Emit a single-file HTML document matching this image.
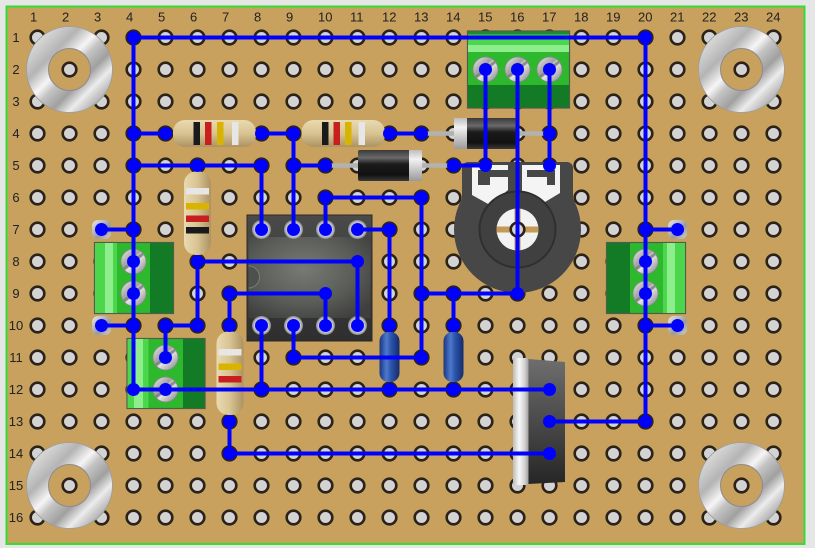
<!DOCTYPE html>
<html>
<head>
<meta charset="utf-8">
<style>
html,body{margin:0;padding:0;background:#e6e6e6;}
svg{display:block;}
text{font-family:"Liberation Sans",Arial,sans-serif;font-size:13px;fill:#222;}
</style>
</head>
<body>
<svg width="815" height="548" viewBox="0 0 815 548" xmlns="http://www.w3.org/2000/svg">
<defs>
  <pattern id="holes" x="21.5" y="21.5" width="32" height="32" patternUnits="userSpaceOnUse">
    <circle cx="16" cy="16" r="6.8" fill="#d3d3d5" stroke="#2b2218" stroke-width="2.6"/>
  </pattern>
  <linearGradient id="silverW" x1="0" y1="0" x2="1" y2="1">
    <stop offset="0" stop-color="#dcdcdc"/>
    <stop offset="0.25" stop-color="#b4b4b4"/>
    <stop offset="0.42" stop-color="#f6f6f6"/>
    <stop offset="0.52" stop-color="#c4c4c4"/>
    <stop offset="0.68" stop-color="#a0a0a0"/>
    <stop offset="0.82" stop-color="#ececec"/>
    <stop offset="1" stop-color="#a8a8a8"/>
  </linearGradient>
  <linearGradient id="screw" x1="0" y1="0" x2="1" y2="1">
    <stop offset="0" stop-color="#efefef"/>
    <stop offset="0.4" stop-color="#a0a0a0"/>
    <stop offset="0.55" stop-color="#e4e4e4"/>
    <stop offset="1" stop-color="#808080"/>
  </linearGradient>
  <radialGradient id="pinG" cx="0.5" cy="0.5" r="0.5">
    <stop offset="0" stop-color="#ffffff"/>
    <stop offset="0.6" stop-color="#e6e6e6"/>
    <stop offset="1" stop-color="#8a8a8a"/>
  </radialGradient>
  <linearGradient id="resH" x1="0" y1="0" x2="0" y2="1">
    <stop offset="0" stop-color="#e9dab2"/>
    <stop offset="0.5" stop-color="#d8c392"/>
    <stop offset="1" stop-color="#ad9262"/>
  </linearGradient>
  <linearGradient id="resV" x1="0" y1="0" x2="1" y2="0">
    <stop offset="0" stop-color="#e9dab2"/>
    <stop offset="0.5" stop-color="#d8c392"/>
    <stop offset="1" stop-color="#ad9262"/>
  </linearGradient>
  <linearGradient id="diodeG" x1="0" y1="0" x2="0" y2="1">
    <stop offset="0" stop-color="#3a3a3a"/>
    <stop offset="0.25" stop-color="#6a6a6a"/>
    <stop offset="0.45" stop-color="#1c1c1c"/>
    <stop offset="0.8" stop-color="#111"/>
    <stop offset="1" stop-color="#3a3a3a"/>
  </linearGradient>
  <linearGradient id="bandG" x1="0" y1="0" x2="0" y2="1">
    <stop offset="0" stop-color="#bdbdbd"/>
    <stop offset="0.3" stop-color="#f2f2f2"/>
    <stop offset="1" stop-color="#9a9a9a"/>
  </linearGradient>
  <linearGradient id="capG" x1="0" y1="0" x2="1" y2="0">
    <stop offset="0" stop-color="#1a3680"/>
    <stop offset="0.35" stop-color="#4d79cc"/>
    <stop offset="0.6" stop-color="#2a52a8"/>
    <stop offset="1" stop-color="#142c6c"/>
  </linearGradient>
  <linearGradient id="tabG" x1="0" y1="0" x2="1" y2="0">
    <stop offset="0" stop-color="#bcbcbc"/>
    <stop offset="0.4" stop-color="#f8f8f8"/>
    <stop offset="0.75" stop-color="#d2d2d2"/>
    <stop offset="1" stop-color="#a0a0a0"/>
  </linearGradient>
  <linearGradient id="regG" x1="0" y1="0" x2="0" y2="1">
    <stop offset="0" stop-color="#6e6e6e"/>
    <stop offset="0.5" stop-color="#4a4a4a"/>
    <stop offset="1" stop-color="#262626"/>
  </linearGradient>
  <radialGradient id="icG" cx="0.45" cy="0.4" r="0.7">
    <stop offset="0" stop-color="#777a74"/>
    <stop offset="0.6" stop-color="#5a5c58"/>
    <stop offset="1" stop-color="#3e3f3e"/>
  </radialGradient>
  <linearGradient id="icTop" x1="0" y1="0" x2="0" y2="1">
    <stop offset="0" stop-color="#4a4a4a"/>
    <stop offset="1" stop-color="#2e2e2e"/>
  </linearGradient>
  <linearGradient id="pinSq" x1="0" y1="0" x2="1" y2="1">
    <stop offset="0" stop-color="#e8e8e8"/>
    <stop offset="0.6" stop-color="#9a9a9a"/>
    <stop offset="1" stop-color="#cfcfcf"/>
  </linearGradient>
  <clipPath id="potC"><circle cx="517.5" cy="229.5" r="21"/></clipPath>
</defs>

<!-- board -->
<rect x="6.5" y="6.5" width="798" height="537.5" fill="#c9a15e" stroke="#33dd33" stroke-width="2"/>
<rect x="21.5" y="21.5" width="768" height="512" fill="url(#holes)"/>

<!-- labels -->
<g>
<text x="30" y="21.5">1</text><text x="62" y="21.5">2</text><text x="94" y="21.5">3</text><text x="126" y="21.5">4</text>
<text x="158" y="21.5">5</text><text x="190" y="21.5">6</text><text x="222" y="21.5">7</text><text x="254" y="21.5">8</text>
<text x="286" y="21.5">9</text><text x="318" y="21.5">10</text><text x="350" y="21.5">11</text><text x="382" y="21.5">12</text>
<text x="414" y="21.5">13</text><text x="446" y="21.5">14</text><text x="478" y="21.5">15</text><text x="510" y="21.5">16</text>
<text x="542" y="21.5">17</text><text x="574" y="21.5">18</text><text x="606" y="21.5">19</text><text x="638" y="21.5">20</text>
<text x="670" y="21.5">21</text><text x="702" y="21.5">22</text><text x="734" y="21.5">23</text><text x="766" y="21.5">24</text>
</g>
<g text-anchor="middle">
<text x="16" y="42">1</text><text x="16" y="74">2</text><text x="16" y="106">3</text><text x="16" y="138">4</text>
<text x="16" y="170">5</text><text x="16" y="202">6</text><text x="16" y="234">7</text><text x="16" y="266">8</text>
<text x="16" y="298">9</text><text x="16" y="330">10</text><text x="16" y="362">11</text><text x="16" y="394">12</text>
<text x="16" y="426">13</text><text x="16" y="458">14</text><text x="16" y="490">15</text><text x="16" y="522">16</text>
</g>

<!-- washers -->
<g fill="none">
  <g>
    <circle cx="69.5" cy="69.5" r="32" stroke="url(#silverW)" stroke-width="22"/>
    <circle cx="69.5" cy="69.5" r="43" stroke="#9c9c9c" stroke-width="0.8"/>
    <circle cx="69.5" cy="69.5" r="21" stroke="#8a8a8a" stroke-width="1"/>
  </g>
  <g>
    <circle cx="741.5" cy="69.5" r="32" stroke="url(#silverW)" stroke-width="22"/>
    <circle cx="741.5" cy="69.5" r="43" stroke="#9c9c9c" stroke-width="0.8"/>
    <circle cx="741.5" cy="69.5" r="21" stroke="#8a8a8a" stroke-width="1"/>
  </g>
  <g>
    <circle cx="69.5" cy="485.5" r="32" stroke="url(#silverW)" stroke-width="22"/>
    <circle cx="69.5" cy="485.5" r="43" stroke="#9c9c9c" stroke-width="0.8"/>
    <circle cx="69.5" cy="485.5" r="21" stroke="#8a8a8a" stroke-width="1"/>
  </g>
  <g>
    <circle cx="741.5" cy="485.5" r="32" stroke="url(#silverW)" stroke-width="22"/>
    <circle cx="741.5" cy="485.5" r="43" stroke="#9c9c9c" stroke-width="0.8"/>
    <circle cx="741.5" cy="485.5" r="21" stroke="#8a8a8a" stroke-width="1"/>
  </g>
</g>

<!-- terminal pins (silver) -->
<rect x="92" y="220" width="19" height="19" rx="6" fill="url(#pinSq)"/>
<rect x="92" y="316" width="19" height="19" rx="6" fill="url(#pinSq)"/>
<rect x="668" y="220" width="19" height="19" rx="6" fill="url(#pinSq)"/>
<rect x="668" y="316" width="19" height="19" rx="6" fill="url(#pinSq)"/>

<!-- TB1 -->
<g>
  <rect x="94.5" y="242.5" width="79" height="71" fill="#2db82d" stroke="#4e5e4a" stroke-width="1.2"/>
  <rect x="95" y="243" width="22" height="70" fill="#4bd64b"/>
  <rect x="105" y="243" width="8" height="70" fill="#8eee8e"/>
  <rect x="150" y="243" width="23" height="70" fill="#137a25"/>
</g>
<!-- TB2 -->
<g>
  <rect x="127" y="338.5" width="78" height="70" fill="#2db82d" stroke="#4e5e4a" stroke-width="1.2"/>
  <rect x="127.5" y="339" width="21" height="69" fill="#4bd64b"/>
  <rect x="134" y="339" width="9" height="69" fill="#8eee8e"/>
  <rect x="183" y="339" width="21.5" height="69" fill="#137a25"/>
</g>
<!-- TB3 -->
<g>
  <rect x="606.5" y="242.5" width="79" height="71" fill="#2db82d" stroke="#4e5e4a" stroke-width="1.2"/>
  <rect x="607" y="243" width="23" height="70" fill="#137a25"/>
  <rect x="663" y="243" width="22" height="70" fill="#4bd64b"/>
  <rect x="667" y="243" width="8" height="70" fill="#8eee8e"/>
</g>
<!-- TB4 -->
<g>
  <rect x="467.5" y="31" width="102" height="77" fill="#2db82d" stroke="#4e5e4a" stroke-width="1.2"/>
  <rect x="468" y="31.5" width="101" height="3" fill="#1e8c2e"/>
  <rect x="468" y="34.5" width="101" height="17" fill="#4bd64b"/>
  <rect x="468" y="45" width="101" height="7" fill="#8eee8e"/>
  <rect x="468" y="85" width="101" height="22.5" fill="#137a25"/>
</g>

<!-- screws -->
<g stroke="#8a8a8a" stroke-width="0.8">
  <circle cx="133.5" cy="261.5" r="12.5" fill="url(#screw)"/>
  <circle cx="133.5" cy="293.5" r="12.5" fill="url(#screw)"/>
  <circle cx="165.5" cy="357.5" r="12.5" fill="url(#screw)"/>
  <circle cx="165.5" cy="389.5" r="12.5" fill="url(#screw)"/>
  <circle cx="645.5" cy="261.5" r="12.5" fill="url(#screw)"/>
  <circle cx="645.5" cy="293.5" r="12.5" fill="url(#screw)"/>
  <circle cx="485.5" cy="69.5" r="12.5" fill="url(#screw)"/>
  <circle cx="517.5" cy="69.5" r="12.5" fill="url(#screw)"/>
  <circle cx="549.5" cy="69.5" r="12.5" fill="url(#screw)"/>
</g>
<g stroke="#6e6e6e" stroke-width="3" opacity="0.7">
  <line x1="124" y1="269" x2="143" y2="254"/><line x1="124" y1="301" x2="143" y2="286"/>
  <line x1="156" y1="365" x2="175" y2="350"/><line x1="156" y1="397" x2="175" y2="382"/>
  <line x1="636" y1="269" x2="655" y2="254"/><line x1="636" y1="301" x2="655" y2="286"/>
  <line x1="476" y1="77" x2="495" y2="62"/><line x1="508" y1="77" x2="527" y2="62"/><line x1="540" y1="77" x2="559" y2="62"/>
</g>

<!-- IC -->
<g>
  <rect x="247" y="215" width="125" height="126" fill="url(#icTop)" stroke="#2a2a2a" stroke-width="1"/>
  <rect x="248.5" y="237" width="122" height="81" fill="url(#icG)"/>
  <path d="M248.5,266 A11 11 0 0 1 248.5,288" fill="#4e504d" stroke="#7a7c78" stroke-width="1"/>
  <g>
    <circle cx="261.5" cy="229.5" r="9.5" fill="url(#pinG)"/>
    <circle cx="293.5" cy="229.5" r="9.5" fill="url(#pinG)"/>
    <circle cx="325.5" cy="229.5" r="9.5" fill="url(#pinG)"/>
    <circle cx="357.5" cy="229.5" r="9.5" fill="url(#pinG)"/>
    <circle cx="261.5" cy="325.5" r="9.5" fill="url(#pinG)"/>
    <circle cx="293.5" cy="325.5" r="9.5" fill="url(#pinG)"/>
    <circle cx="325.5" cy="325.5" r="9.5" fill="url(#pinG)"/>
    <circle cx="357.5" cy="325.5" r="9.5" fill="url(#pinG)"/>
  </g>
</g>

<!-- Pot -->
<g>
  <rect x="462" y="162" width="111" height="66" rx="6" fill="#474747"/>
  <circle cx="517.5" cy="229.5" r="63.5" fill="#474747"/>
  <polygon points="472,165 508,165 508,190 490,205 472,195" fill="#f4f4f4"/>
  <rect x="478" y="170" width="12" height="15" fill="#474747"/>
  <rect x="490" y="170" width="18" height="7" fill="#474747"/>
  <polygon points="522,165 560,165 560,193 540,205 522,192" fill="#f4f4f4"/>
  <rect x="547" y="170" width="8" height="15" fill="#474747"/>
  <rect x="527" y="170" width="20" height="7" fill="#474747"/>
  <circle cx="517.5" cy="229.5" r="38" fill="#404040" stroke="#2f2f2f" stroke-width="2"/>
  <circle cx="517.5" cy="229.5" r="21" fill="#f2f2f2"/>
  <g clip-path="url(#potC)" fill="#c49a55">
    <rect x="494" y="226.5" width="47" height="6"/>
    <rect x="514.5" y="206" width="6" height="47"/>
  </g>
  <circle cx="517.5" cy="229.5" r="6.8" fill="#d3d3d5" stroke="#2b2218" stroke-width="2.6"/>
</g>

<!-- Regulator -->
<g>
  <rect x="513" y="358" width="15.5" height="127" fill="url(#tabG)"/>
  <polygon points="528.5,359 565,362 565,482 528.5,484" fill="url(#regG)"/>
</g>

<!-- Capacitors -->
<rect x="379.5" y="332" width="20" height="50" rx="9" fill="url(#capG)"/>
<rect x="443.5" y="332" width="20" height="50" rx="9" fill="url(#capG)"/>

<!-- Diode leads -->
<line x1="421.5" y1="133.5" x2="549.5" y2="133.5" stroke="#b2b2b2" stroke-width="4.5"/>
<line x1="325.5" y1="165.5" x2="453.5" y2="165.5" stroke="#b2b2b2" stroke-width="4.5"/>
<!-- Diodes -->
<rect x="454" y="118" width="64" height="31" rx="2" fill="url(#diodeG)"/>
<rect x="454" y="118" width="13" height="31" fill="url(#bandG)"/>
<rect x="358" y="150" width="64" height="31" rx="2" fill="url(#diodeG)"/>
<rect x="409" y="150" width="13" height="31" fill="url(#bandG)"/>

<!-- Resistors -->
<g>
  <rect x="173" y="120" width="83" height="27" rx="12" fill="url(#resH)"/>
  <rect x="193.5" y="122" width="6.5" height="23" fill="#1a1a1a"/>
  <rect x="205" y="122" width="6.5" height="23" fill="#c81e1e"/>
  <rect x="217" y="122" width="6.5" height="23" fill="#d8b400"/>
  <rect x="232" y="122" width="6.5" height="23" fill="#e6e6e6"/>
</g>
<g>
  <rect x="301.5" y="120" width="83.5" height="27" rx="12" fill="url(#resH)"/>
  <rect x="322" y="122" width="6.5" height="23" fill="#1a1a1a"/>
  <rect x="333.5" y="122" width="6.5" height="23" fill="#c81e1e"/>
  <rect x="345" y="122" width="6.5" height="23" fill="#d8b400"/>
  <rect x="358.5" y="122" width="6.5" height="23" fill="#e6e6e6"/>
</g>
<g>
  <rect x="184" y="171.5" width="27" height="83.5" rx="12" fill="url(#resV)"/>
  <rect x="186" y="188" width="23" height="6.5" fill="#e6e6e6"/>
  <rect x="186" y="203" width="23" height="6.5" fill="#d8b400"/>
  <rect x="186" y="215.5" width="23" height="6.5" fill="#c81e1e"/>
  <rect x="186" y="227" width="23" height="6.5" fill="#1a1a1a"/>
</g>
<g>
  <rect x="216.5" y="331.5" width="27" height="83.5" rx="12" fill="url(#resV)"/>
  <rect x="218.5" y="349" width="23" height="6.5" fill="#e6e6e6"/>
  <rect x="218.5" y="363.5" width="23" height="6.5" fill="#d8b400"/>
  <rect x="218.5" y="376" width="23" height="6.5" fill="#c81e1e"/>
</g>

<!-- Wires -->
<path fill="none" stroke="#0000ff" stroke-width="4" stroke-linecap="round" d="
M133.5 37.5 H645.5
M133.5 37.5 V389.5
M645.5 37.5 V421.5
M133.5 133.5 H165.5
M261.5 133.5 H293.5
M293.5 133.5 V229.5
M133.5 165.5 H261.5
M261.5 165.5 V229.5
M293.5 165.5 H325.5
M389.5 133.5 H421.5
M453.5 165.5 H485.5
M485.5 69.5 V165.5
M517.5 69.5 V293.5
M549.5 69.5 V165.5
M101.5 229.5 H133.5
M325.5 197.5 H421.5
M325.5 197.5 V229.5
M357.5 229.5 H389.5
M389.5 229.5 V325.5
M421.5 197.5 V357.5
M421.5 293.5 H517.5
M453.5 293.5 V325.5
M197.5 261.5 H357.5
M357.5 261.5 V325.5
M197.5 261.5 V325.5
M165.5 325.5 H197.5
M165.5 325.5 V357.5
M229.5 293.5 H325.5
M229.5 293.5 V325.5
M325.5 293.5 V325.5
M101.5 325.5 H133.5
M133.5 389.5 H549.5
M261.5 325.5 V389.5
M293.5 325.5 V357.5
M293.5 357.5 H421.5
M229.5 421.5 V453.5
M229.5 453.5 H549.5
M549.5 421.5 H645.5
M645.5 229.5 H677.5
M645.5 325.5 H677.5
"/>

<!-- Dots -->
<g fill="#0000ff">
<circle cx="133.5" cy="37.5" r="6.5"/><circle cx="645.5" cy="37.5" r="6.5"/>
<circle cx="485.5" cy="69.5" r="6.5"/><circle cx="517.5" cy="69.5" r="6.5"/><circle cx="549.5" cy="69.5" r="6.5"/>
<circle cx="133.5" cy="133.5" r="6.5"/><circle cx="165.5" cy="133.5" r="6.5"/><circle cx="261.5" cy="133.5" r="6.5"/>
<circle cx="293.5" cy="133.5" r="6.5"/><circle cx="389.5" cy="133.5" r="6.5"/><circle cx="421.5" cy="133.5" r="6.5"/>
<circle cx="549.5" cy="133.5" r="6.5"/>
<circle cx="133.5" cy="165.5" r="6.5"/><circle cx="197.5" cy="165.5" r="6.5"/><circle cx="261.5" cy="165.5" r="6.5"/>
<circle cx="293.5" cy="165.5" r="6.5"/><circle cx="325.5" cy="165.5" r="6.5"/><circle cx="453.5" cy="165.5" r="6.5"/>
<circle cx="485.5" cy="165.5" r="6.5"/><circle cx="549.5" cy="165.5" r="6.5"/>
<circle cx="325.5" cy="197.5" r="6.5"/><circle cx="421.5" cy="197.5" r="6.5"/>
<circle cx="101.5" cy="229.5" r="6.5"/><circle cx="133.5" cy="229.5" r="6.5"/><circle cx="261.5" cy="229.5" r="6.5"/>
<circle cx="293.5" cy="229.5" r="6.5"/><circle cx="325.5" cy="229.5" r="6.5"/><circle cx="357.5" cy="229.5" r="6.5"/>
<circle cx="389.5" cy="229.5" r="6.5"/><circle cx="645.5" cy="229.5" r="6.5"/><circle cx="677.5" cy="229.5" r="6.5"/>
<circle cx="133.5" cy="261.5" r="6.5"/><circle cx="197.5" cy="261.5" r="6.5"/><circle cx="357.5" cy="261.5" r="6.5"/>
<circle cx="645.5" cy="261.5" r="6.5"/>
<circle cx="133.5" cy="293.5" r="6.5"/><circle cx="229.5" cy="293.5" r="6.5"/><circle cx="325.5" cy="293.5" r="6.5"/>
<circle cx="421.5" cy="293.5" r="6.5"/><circle cx="453.5" cy="293.5" r="6.5"/><circle cx="517.5" cy="293.5" r="6.5"/>
<circle cx="645.5" cy="293.5" r="6.5"/>
<circle cx="101.5" cy="325.5" r="6.5"/><circle cx="133.5" cy="325.5" r="6.5"/><circle cx="165.5" cy="325.5" r="6.5"/>
<circle cx="197.5" cy="325.5" r="6.5"/><circle cx="229.5" cy="325.5" r="6.5"/><circle cx="261.5" cy="325.5" r="6.5"/>
<circle cx="293.5" cy="325.5" r="6.5"/><circle cx="325.5" cy="325.5" r="6.5"/><circle cx="357.5" cy="325.5" r="6.5"/>
<circle cx="389.5" cy="325.5" r="6.5"/><circle cx="453.5" cy="325.5" r="6.5"/><circle cx="645.5" cy="325.5" r="6.5"/>
<circle cx="677.5" cy="325.5" r="6.5"/>
<circle cx="165.5" cy="357.5" r="6.5"/><circle cx="293.5" cy="357.5" r="6.5"/><circle cx="421.5" cy="357.5" r="6.5"/>
<circle cx="133.5" cy="389.5" r="6.5"/><circle cx="165.5" cy="389.5" r="6.5"/><circle cx="261.5" cy="389.5" r="6.5"/>
<circle cx="389.5" cy="389.5" r="6.5"/><circle cx="453.5" cy="389.5" r="6.5"/><circle cx="549.5" cy="389.5" r="6.5"/>
<circle cx="229.5" cy="421.5" r="6.5"/><circle cx="549.5" cy="421.5" r="6.5"/><circle cx="645.5" cy="421.5" r="6.5"/>
<circle cx="229.5" cy="453.5" r="6.5"/><circle cx="549.5" cy="453.5" r="6.5"/>
</g>
</svg>
</body>
</html>
